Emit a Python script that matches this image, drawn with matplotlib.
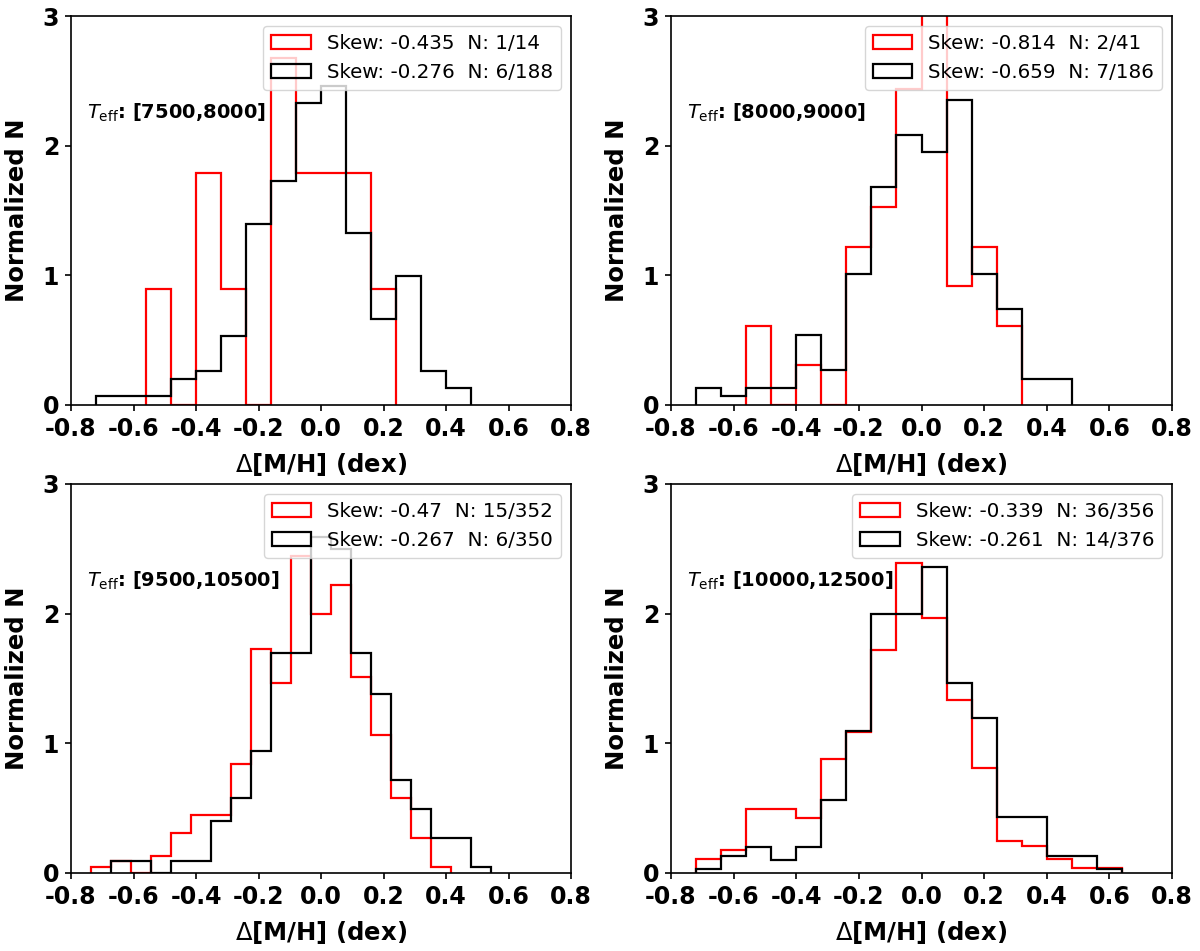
import numpy as np
import matplotlib
matplotlib.use("Agg")
import matplotlib.pyplot as plt

# bin layout per panel: (start, width) for red / black histograms
teff_ranges = ["[7500,8000]", "[8000,9000]", "[9500,10500]", "[10000,12500]"]

red_start = [-0.56, -0.56, -0.736, -0.72]
red_width = [0.08, 0.08, 0.064, 0.08]
black_start = [-0.72, -0.72, -0.672, -0.72]
black_width = [0.08, 0.08, 0.064, 0.08]

# counts per bin
red_counts = [
    [1, 0, 2, 1, 0, 3, 2, 2, 2, 1],
    [2, 0, 1, 0, 4, 5, 8, 12, 3, 4, 2],
    [1, 2, 0, 3, 7, 10, 10, 19, 39, 33, 55, 45, 50, 34, 24, 13, 6, 1],
    [3, 5, 14, 14, 12, 25, 31, 49, 68, 56, 38, 23, 7, 6, 3, 1, 1],
]
black_counts = [
    [1, 1, 1, 3, 4, 8, 21, 26, 35, 37, 20, 10, 15, 4, 2],
    [2, 1, 2, 2, 8, 4, 15, 25, 31, 29, 35, 15, 11, 3, 3],
    [2, 2, 0, 2, 2, 9, 13, 21, 38, 38, 58, 56, 38, 31, 16, 11, 6, 6, 1],
    [1, 4, 6, 3, 6, 17, 33, 60, 60, 71, 44, 36, 13, 13, 4, 4, 1],
]

red_skew = ["-0.435", "-0.814", "-0.47", "-0.339"]
red_n = ["1/14", "2/41", "15/352", "36/356"]
black_skew = ["-0.276", "-0.659", "-0.267", "-0.261"]
black_n = ["6/188", "7/186", "6/350", "14/376"]

xticks = [-0.8, -0.6, -0.4, -0.2, 0.0, 0.2, 0.4, 0.6, 0.8]
yticks = [0, 1, 2, 3]


def edges_for(start, width, n):
    return np.round(start + width * np.arange(n + 1), 4)


fig = plt.figure(figsize=(12, 9.51), dpi=100)
W, H = 1200, 951
boxes = [
    (71, 16, 500, 389),
    (671, 16, 501, 389),
    (71, 484, 500, 389),
    (671, 484, 501, 389),
]

for i, (x0, y0, w, h) in enumerate(boxes):
    ax = fig.add_axes([x0 / W, 1 - (y0 + h) / H, w / W, h / H])

    re = edges_for(red_start[i], red_width[i], len(red_counts[i]))
    be = edges_for(black_start[i], black_width[i], len(black_counts[i]))
    ax.hist((re[:-1] + re[1:]) / 2, bins=re, weights=red_counts[i], density=True,
            histtype="step", color="red", linewidth=1.6,
            label=f"Skew: {red_skew[i]}  N: {red_n[i]}")
    ax.hist((be[:-1] + be[1:]) / 2, bins=be, weights=black_counts[i], density=True,
            histtype="step", color="black", linewidth=1.6,
            label=f"Skew: {black_skew[i]}  N: {black_n[i]}")

    ax.set_xlim(-0.8, 0.8)
    ax.set_ylim(0, 3)
    ax.set_xticks(xticks)
    ax.set_xticklabels([f"{t:.1f}" for t in xticks])
    ax.set_yticks(yticks)
    ax.tick_params(labelsize=17, width=1.2, length=4.5, pad=4)
    for lab in ax.get_xticklabels() + ax.get_yticklabels():
        lab.set_fontweight("bold")
    for sp in ax.spines.values():
        sp.set_linewidth(1.2)

    ax.set_xlabel(r"$\Delta$[M/H] (dex)", fontsize=17.5, fontweight="bold")
    ax.set_ylabel("Normalized N", fontsize=17.5, fontweight="bold")
    ax.xaxis.set_label_coords(0.5, -0.118)
    ax.yaxis.set_label_coords(-0.083, 0.5)
    ax.text(0.032, 0.75, r"$T_{\rm eff}$: " + teff_ranges[i], transform=ax.transAxes,
            fontsize=14, fontweight="bold", va="center")
    ax.legend(loc="upper right", fontsize=14.3)

fig.savefig("out.png", dpi=100)
